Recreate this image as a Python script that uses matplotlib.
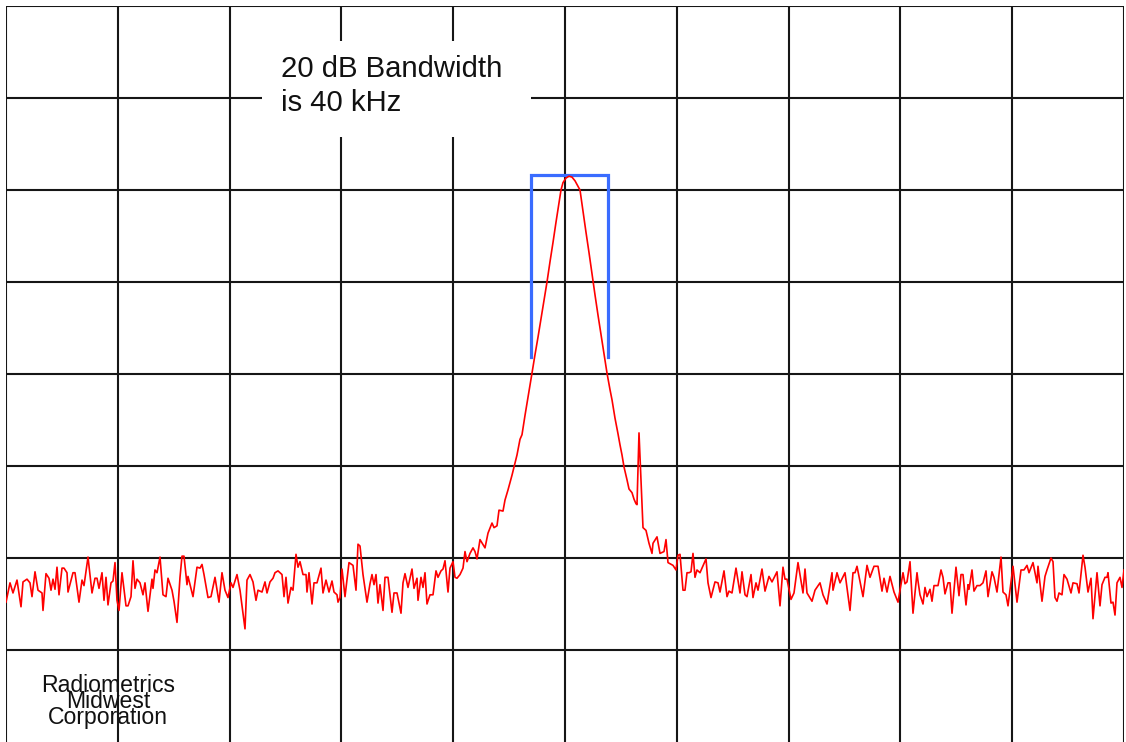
import matplotlib
matplotlib.use("Agg")
import matplotlib.pyplot as plt
from matplotlib.patches import Rectangle

plt.rcParams['font.family'] = ['Liberation Sans', 'DejaVu Sans']

# ---- data -------------------------------------------------------------
# frequency offset from centre (kHz) and measured level (dB)
freq_khz = [
    -279.5, -277.5, -276.0, -274.0, -272.0, -271.0, -269.0, -267.5, -266.5, -265.0,
    -263.5, -261.5, -261.0, -259.5, -258.0, -257.0, -256.0, -255.0, -254.0, -253.0,
    -251.5, -250.5, -249.0, -248.5, -246.0, -245.0, -243.0, -241.5, -240.5, -238.5,
    -236.5, -235.0, -234.0, -233.0, -231.5, -230.5, -229.5, -228.5, -227.0, -226.0,
    -225.0, -224.0, -223.0, -221.5, -219.5, -218.5, -217.0, -216.0, -215.0, -214.0,
    -212.5, -211.0, -210.0, -208.5, -206.5, -206.0, -205.0, -204.0, -202.5, -201.0,
    -199.5, -198.5, -196.5, -195.5, -194.0, -192.5, -191.5, -190.5, -189.0, -188.5,
    -186.0, -184.0, -182.5, -181.5, -180.5, -178.5, -177.0, -175.0, -173.0, -171.5,
    -170.0, -168.5, -167.0, -166.0, -164.0, -162.5, -160.0, -159.0, -157.5, -156.0,
    -154.5, -153.5, -151.5, -150.0, -149.0, -147.5, -146.0, -145.0, -143.5, -141.5,
    -140.5, -139.5, -138.5, -137.0, -136.0,
    -134.5, -133.5, -132.5, -131.0, -129.5, -129.0, -128.0, -126.5, -125.5, -124.0,
    -122.0, -121.0, -119.5, -118.0, -116.5, -115.5, -114.0, -113.5, -112.5, -111.5,
    -110.0, -108.0, -106.0, -104.5, -103.5, -102.5, -101.0, -99.0, -97.5, -96.5,
    -95.5, -94.5, -93.5, -92.5, -91.0, -90.0, -88.5, -86.5, -85.5, -84.0,
    -82.0, -81.0, -80.0, -78.5, -76.5, -75.5, -74.0, -73.5, -72.0, -71.0,
    -70.0, -69.0, -67.5, -66.0, -64.5, -63.5, -62.0, -61.0, -60.0, -58.5,
    -57.5, -56.0, -55.0, -54.0, -52.5, -51.0, -50.0, -49.0, -47.5, -46.0,
    -45.0, -44.0, -42.5, -40.0, -38.5, -36.5, -35.5, -34.0, -33.0, -31.0,
    -30.0, -28.5, -26.5, -25.0, -24.0, -22.5, -21.5, -20.0, -19.0, -17.5,
    -16.5, -15.0, -13.5, -12.0, -10.5, -9.0, -7.5, -6.0, -4.5, -3.0,
    -2.0, -1.0, 0.5, 2.0, 3.5, 5.0, 6.5, 7.5, 9.0, 10.5,
    12.0, 13.5, 15.0, 16.5, 18.0, 19.5, 21.0, 22.5, 23.5, 25.0,
    26.5, 27.5, 28.5, 29.5, 31.0, 32.0, 33.5, 34.5, 35.5, 36.0,
    37.0, 39.0, 40.5, 42.0, 43.5, 44.0, 46.0, 47.5, 49.5, 50.5,
    51.5, 54.0, 55.5, 56.5, 57.5, 59.0, 60.0, 61.0, 62.0, 63.0,
    64.0, 65.0, 66.0, 67.5, 70.5, 71.5, 73.0, 75.0, 76.5, 77.5,
    79.5, 81.0, 82.0, 83.5, 85.5, 87.5, 88.5, 90.0, 91.0, 93.0,
    94.0, 95.5, 96.5, 98.5, 100.0, 102.0, 103.5, 106.0, 107.5, 109.0,
    110.0, 111.0, 113.0, 114.5, 116.5, 119.0, 120.0, 121.0, 123.5, 125.0,
    127.5, 129.0, 131.0, 133.5, 134.0, 136.0, 137.5, 140.0, 142.5, 144.0,
    145.0, 146.0, 149.0, 151.0, 152.5, 154.5, 156.5, 158.5, 159.5, 161.0,
    162.5, 164.5, 166.5,
    167.5, 169.0, 170.0, 171.0, 172.5, 174.0, 176.0, 176.5, 177.5, 179.0,
    180.0, 181.0, 182.5, 183.5, 184.5, 186.5, 188.0, 189.0, 190.0, 191.5,
    192.5, 193.5, 195.5, 197.0, 198.0, 199.0, 200.5, 201.5, 202.0, 203.5,
    204.5, 206.0, 207.5, 209.0, 210.5, 211.5, 213.5, 214.5, 216.0, 218.0,
    219.0, 220.5, 221.5, 224.0, 226.0, 228.0, 229.5, 231.0, 232.0, 234.0,
    236.0, 236.5, 238.5, 240.0, 241.0, 243.0, 244.0, 245.0, 246.0, 247.0,
    248.5, 249.5, 251.0, 253.0, 254.0, 256.0, 257.0, 259.0, 260.0, 261.5,
    263.0, 264.0, 266.0, 267.5, 268.5, 270.0, 271.0, 271.5, 273.0, 274.0,
    275.0, 276.0, 277.5, 278.5, 279.5,
]
level_db = [
    -64.8, -62.7, -63.8, -62.4, -65.3, -62.6, -62.3, -62.7, -64.2, -61.5,
    -63.5, -63.8, -65.7, -61.7, -62.2, -63.5, -62.3, -63.4, -61.0, -64.0,
    -61.1, -61.1, -61.6, -63.7, -61.6, -61.6, -64.8, -62.4, -63.0, -59.9,
    -63.8, -62.2, -62.2, -63.3, -61.6, -64.6, -62.1, -65.1, -62.7, -62.5,
    -60.5, -64.6, -65.7, -61.6, -65.2, -65.2, -64.2, -60.3, -63.3, -62.3,
    -62.7, -64.0, -62.7, -65.8, -62.3, -63.3, -61.3, -61.6, -59.9, -64.0,
    -64.2, -62.2, -63.5, -64.7, -67.0, -62.1, -59.8, -59.8, -62.9, -62.0,
    -64.2, -61.0, -61.1, -60.7, -61.8, -64.3, -64.2, -62.1, -64.8, -61.6,
    -63.5, -64.3, -62.7, -63.2, -61.8, -63.5, -67.7, -62.4, -61.8, -62.6,
    -64.6, -63.5, -63.7, -62.6, -63.8, -62.6, -62.2, -61.6, -61.4, -61.8,
    -64.2, -62.1, -64.9, -63.2, -63.5,
    -59.6, -61.0, -60.4, -61.8, -61.8, -63.7, -61.6, -65.0, -62.7, -62.7,
    -61.1, -63.8, -62.4, -63.7, -62.5, -63.7, -64.0, -64.8, -64.3, -61.2,
    -64.2, -60.5, -60.8, -63.5, -58.5, -58.7, -61.8, -64.8, -62.8, -61.8,
    -62.9, -61.8, -64.9, -62.9, -65.7, -62.1, -62.1, -65.9, -63.8, -63.8,
    -66.0, -62.7, -61.7, -63.2, -61.2, -63.3, -62.2, -64.6, -62.1, -63.2,
    -61.6, -65.0, -64.0, -64.0, -61.4, -62.1, -61.4, -61.2, -60.3, -63.7,
    -61.1, -60.4, -62.1, -62.2, -61.8, -61.1, -59.3, -60.4, -59.5, -58.9,
    -59.3, -60.1, -58.0, -58.9, -57.3, -56.2, -56.7, -56.5, -54.8, -54.9,
    -53.7, -52.6, -51.0, -49.7, -48.8, -47.1, -46.6, -44.5, -43.2, -41.2,
    -39.9, -37.9, -36.0, -34.0, -32.0, -30.0, -27.8, -25.7, -23.5, -21.4,
    -20.0, -19.2, -18.7, -18.5, -18.6, -19.0, -19.6, -20.0, -22.3, -24.6,
    -26.8, -29.1, -31.4, -33.6, -35.7, -37.8, -39.9, -41.7, -42.8, -44.8,
    -46.5, -47.7, -48.8, -50.1, -51.5, -52.5, -52.9, -53.6, -54.1, -54.2,
    -46.4, -56.7, -57.0, -58.4, -59.5, -58.4, -57.7, -59.5, -59.3, -58.0,
    -60.5, -60.8, -61.3, -59.7, -59.6, -63.5, -63.5, -61.6, -61.6, -61.5,
    -59.5, -62.1, -61.3, -61.6, -60.1, -62.7, -64.3, -62.6, -62.7, -63.7,
    -61.4, -64.2, -63.6, -63.8, -61.1, -63.8, -61.5, -64.0, -64.2, -61.8,
    -64.3, -62.7, -63.5, -61.2, -63.6, -62.0, -62.6, -61.5, -65.2, -61.0,
    -62.3, -62.3, -64.5, -63.8, -60.5, -63.8, -61.2, -63.8, -64.7, -63.5,
    -62.7, -64.0, -65.0, -61.6, -63.5, -61.6, -62.7, -61.6, -65.7, -61.6,
    -61.6, -60.9, -64.2, -60.8, -62.1, -60.9, -60.9, -63.6, -62.2, -63.7,
    -62.0, -63.7, -64.8,
    -63.5, -61.6, -62.8, -62.6, -60.4, -66.0, -61.6, -62.5, -64.0, -65.0,
    -63.2, -64.2, -63.4, -64.7, -63.0, -63.0, -61.3, -62.1, -63.9, -62.7,
    -62.7, -66.0, -61.0, -64.1, -61.8, -61.8, -65.1, -62.9, -63.4, -61.3,
    -63.6, -63.0, -63.0, -62.7, -61.4, -64.2, -61.5, -62.1, -63.7, -59.9,
    -63.7, -64.0, -65.2, -60.9, -64.8, -61.3, -61.3, -60.8, -61.6, -60.5,
    -62.7, -60.9, -64.7, -62.0, -61.3, -60.0, -60.4, -64.3, -64.7, -63.8,
    -64.0, -61.8, -62.3, -63.8, -62.7, -62.8, -63.8, -59.7, -61.0, -63.7,
    -62.2, -66.6, -61.6, -65.2, -62.9, -62.1, -62.1, -61.6, -64.9, -64.8,
    -66.2, -62.7, -62.1, -63.2, -61.3,
]

# 20 dB bandwidth marker
bw_left_khz = -17.0
bw_right_khz = 21.5
bw_top_db = -18.4
bw_bottom_db = -38.2

annotation_lines = ["20 dB Bandwidth", "is 40 kHz"]
logo_lines = ["Radiometrics", "Midwest", "Corporation"]

# display settings
span_khz = 559.0
n_xdiv = 10
ref_db = 0.0
db_per_div = 10.0
n_ydiv = 8

# ---- figure -----------------------------------------------------------
W, H = 1126, 742
fig = plt.figure(figsize=(W / 100, H / 100), dpi=100)
ax = fig.add_axes([6 / W, 0, 1118 / W, 736 / H])
ax.set_xlim(-span_khz / 2, span_khz / 2)
ax.set_ylim(ref_db - n_ydiv * db_per_div, ref_db)
ax.axis('off')

grid_kw = dict(color='#161616', linewidth=1.5, zorder=1)
for k in range(n_xdiv + 1):
    ax.axvline(-span_khz / 2 + k * span_khz / n_xdiv, **grid_kw)
for k in range(n_ydiv):   # bottom edge falls outside the picture
    ax.axhline(ref_db - k * db_per_div, **grid_kw)

# white box behind the annotation
fig.patches.append(Rectangle((262 / W, 1 - 137 / H), (531 - 262) / W, (137 - 41) / H,
                             transform=fig.transFigure, facecolor='white',
                             edgecolor='none', zorder=2))

ax.plot(freq_khz, level_db, color='#ff0000', linewidth=1.2, zorder=4)

ax.plot([bw_left_khz, bw_left_khz, bw_right_khz, bw_right_khz],
        [bw_bottom_db, bw_top_db, bw_top_db, bw_bottom_db],
        color='#3a6cff', linewidth=2.3, solid_joinstyle='miter', zorder=3)

fig.text(281 / W, 1 - 77 / H, annotation_lines[0], fontsize=21.1, ha='left',
         va='baseline', color='#111111', zorder=5)
fig.text(281 / W, 1 - 111 / H, annotation_lines[1], fontsize=21.1, ha='left',
         va='baseline', color='#111111', zorder=5)

for line, base in zip(logo_lines, [692, 708, 724]):
    fig.text(108 / W, 1 - base / H, line, fontsize=16.6, ha='center',
             va='baseline', color='#111111', zorder=5)

fig.savefig('out.png', dpi=100, facecolor='white')
